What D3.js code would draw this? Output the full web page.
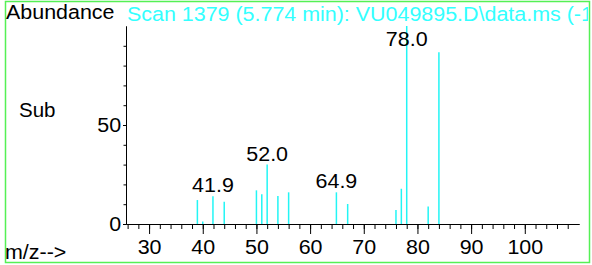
<!DOCTYPE html>
<html>
<head>
<meta charset="utf-8">
<script src="https://cdn.jsdelivr.net/npm/d3@7"></script>
<style>
  body { margin: 0; background: #fff; }
  svg { display: block; }
  text { font-family: "Liberation Sans", Arial, sans-serif; }
</style>
</head>
<body>
<script>
// peaks (m/z, relative abundance)
let mz = [39, 40, 41.9, 44, 50, 51, 52, 54, 56, 64.9, 67, 76, 77, 78, 82, 84]
let abundance = [12.1, 1.2, 14, 11.3, 17, 15, 30, 14.1, 16, 16, 10.1, 7.1, 17.8, 100, 8.9, 86.7]
let labelled = [41.9, 52.0, 64.9, 78.0]
let xMajor = [30, 40, 50, 60, 70, 80, 90, 100]
let xMinor = d3.range(26, 110, 2)
let yMajor = [0, 50]
let yMinor = [10, 20, 30, 40, 60, 70, 80, 90]
let title = "Scan 1379 (5.774 min): VU049895.D\\data.ms (-1379) (-)"

const width = 592
const height = 265
const fs = 19.5
const stretch = "scale(1.1,1)"

let svg = d3.select("body").append("svg")
    .attr("width", width)
    .attr("height", height)

svg.append("clipPath").attr("id", "clip")
    .append("rect").attr("x", 0).attr("y", 0).attr("width", 588).attr("height", height)

let x = d3.scaleLinear().domain([25.7, 110.1]).range([126, 579])
let y = d3.scaleLinear().domain([0, 100]).range([224, 26])

// frame
svg.append("rect")
    .attr("x", 5.5).attr("y", 1.5)
    .attr("width", 584).attr("height", 261)
    .attr("fill", "none")
    .attr("stroke", "#55f055")
    .attr("stroke-width", 1.5)

function stretchedText(g, tx, ty, str, anchor) {
    return g.append("text")
        .attr("transform", "translate(" + tx + "," + ty + ") " + stretch)
        .attr("text-anchor", anchor || "start")
        .attr("font-size", fs)
        .text(str)
}

stretchedText(svg, 6, 18.5, "Abundance").attr("fill", "#000")
// title runs past the frame, clip it there
let titleG = svg.append("g").attr("clip-path", "url(#clip)")
stretchedText(titleG, 127, 20.5, title).attr("fill", "#33ffff")
stretchedText(svg, 5, 258.5, "m/z-->").attr("fill", "#000")

svg.append("text")
    .attr("x", 19).attr("y", 116.5)
    .attr("font-family", "DejaVu Sans")
    .attr("font-size", 20.5)
    .text("Sub")

// peaks
svg.append("g").selectAll("line")
    .data(mz).enter()
    .append("line")
        .attr("x1", d => x(d)).attr("x2", d => x(d))
        .attr("y1", y(0))
        .attr("y2", (d, i) => y(abundance[i]))
        .attr("stroke", "#22f5f5")
        .attr("stroke-width", 1.5)

// x axis
let xAxis = svg.append("g").attr("transform", "translate(0," + y(0) + ")")
xAxis.call(d3.axisBottom(x).tickValues(xMinor).tickSize(5).tickSizeOuter(0).tickFormat(""))
xAxis.append("g").call(d3.axisBottom(x).tickValues(xMajor).tickSize(10).tickSizeOuter(0).tickPadding(5))
xAxis.selectAll("path.domain").attr("stroke", "#000")
xAxis.selectAll("text")
    .attr("font-size", fs)
    .attr("font-family", null)
    .attr("transform", stretch)
    .attr("dy", "0.71em")
    .attr("y", 16)
xAxis.selectAll("line").attr("stroke", "#000")

// y axis
let yAxis = svg.append("g").attr("transform", "translate(" + x.range()[0] + ",0)")
yAxis.call(d3.axisLeft(y).tickValues(yMinor).tickSize(2.5).tickSizeOuter(0).tickFormat(""))
yAxis.append("g").call(d3.axisLeft(y).tickValues(yMajor).tickSize(3).tickSizeOuter(0).tickPadding(2))
yAxis.selectAll("text")
    .attr("font-size", fs)
    .attr("font-family", null)
    .attr("transform", stretch)
    .attr("x", -4.5)
yAxis.selectAll("line").attr("stroke", "#000")

// peak labels
svg.append("g").selectAll("text")
    .data(labelled).enter()
    .append("text")
        .attr("transform", d => {
            let i = mz.indexOf(d)
            let ty = Math.max(y(abundance[i]) - 4, 46)
            return "translate(" + x(d) + "," + ty + ") " + stretch
        })
        .attr("text-anchor", "middle")
        .attr("font-size", fs)
        .text(d => d.toFixed(1))
</script>
</body>
</html>
